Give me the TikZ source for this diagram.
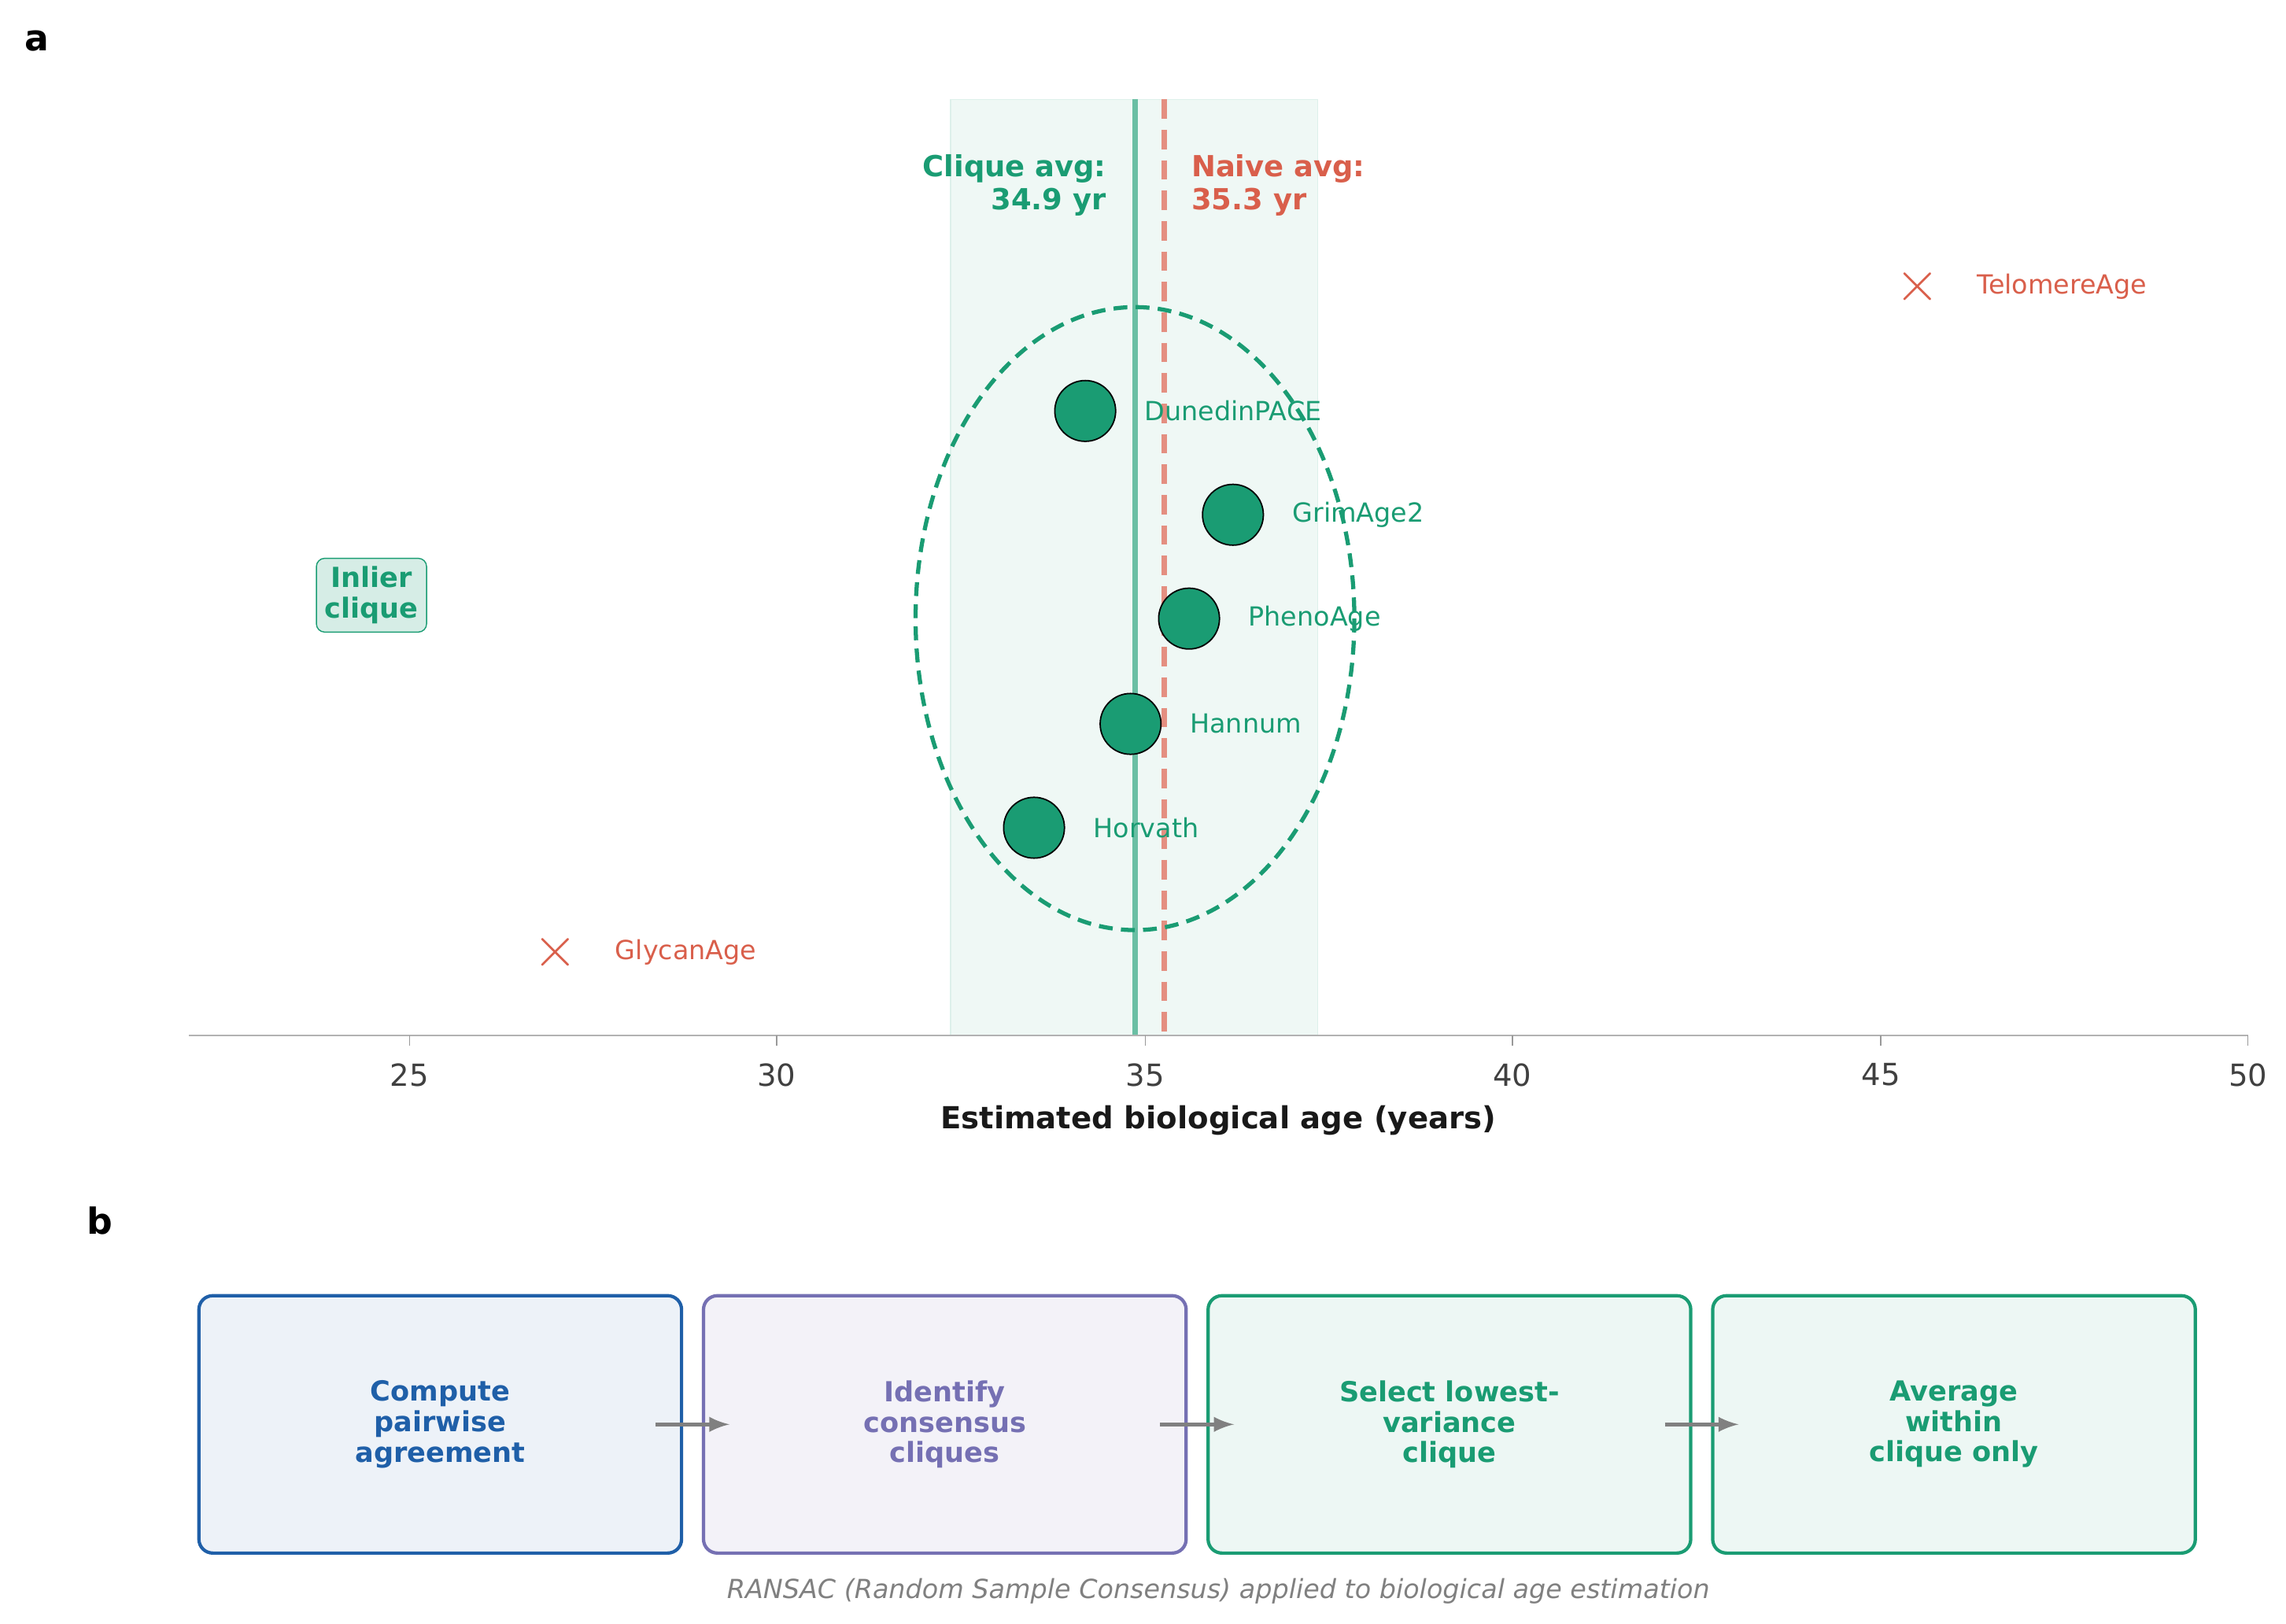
\documentclass[tikz,border=0pt]{standalone}
\usepackage{fontspec}
\setmainfont{DejaVu Sans}
\begin{document}
\definecolor{gr}{HTML}{1A9C73}
\definecolor{rd}{HTML}{D95F4B}
\definecolor{bl}{HTML}{1F5FA8}
\definecolor{pu}{HTML}{7570B3}
\begin{tikzpicture}[x=0.018586cm,y=-0.018586cm,
 pt/.style={circle,draw=black,fill=gr,minimum size=22,inner sep=0,line width=0.5pt},
 lab/.style={anchor=west,font=\fontsize{9.5}{11}\selectfont,text=gr},
 tick/.style={font=\fontsize{11}{13}\selectfont,text=black!75},
 box/.style={draw,rounded corners=5pt,line width=1.2pt,minimum width=330*0.018586cm,minimum height=176*0.018586cm,align=center,font=\bfseries\fontsize{10}{11}\selectfont},
 arr/.style={->,>=latex,draw=gray,line width=1.5pt}]
\useasboundingbox (0,0) rectangle (1563,1110);
\node[font=\bfseries\fontsize{13}{15}\selectfont] (pa) at (25,28) {a};
\node[font=\bfseries\fontsize{13}{15}\selectfont] (pb) at (68,835) {b};
% band
\fill[gr!7] (650,68) rectangle (901,708);
\draw[gr!15] (650,68) rectangle (901,708);
\draw[gr!65,line width=2pt] (776,68) -- (776,708);
\draw[rd!70,line width=2pt,dash pattern=on 7pt off 4pt] (796,68) -- (796,708);
% axis
\draw[black!30,line width=0.8pt] (129,708) -- (1537,708);
\foreach \v/\x in {25/280,30/531,35/783,40/1034,45/1286,50/1537}{
 \draw[black!40] (\x,708) -- (\x,715);
 \node[tick] (t\v) at (\x,735) {\v};}
\node[font=\bfseries\fontsize{11}{13}\selectfont,text=black!90] (xl) at (833,766) {Estimated biological age (years)};
\node[anchor=north east,align=right,text=gr,font=\bfseries\fontsize{10.5}{12}\selectfont] (ca) at (763,99) {Clique avg:\\34.9 yr};
\node[anchor=north west,align=left,text=rd,font=\bfseries\fontsize{10.5}{12}\selectfont] (na) at (808,99) {Naive avg:\\35.3 yr};
\draw[gr,line width=1.5pt,dash pattern=on 5pt off 3pt] (776,423) ellipse [x radius=150,y radius=213];
\foreach \n/\x/\y in {DunedinPACE/742/281,GrimAge2/843/352,PhenoAge/813/423,Hannum/773/495,Horvath/707/566}{
 \node[pt] (p\n) at (\x,\y) {};
 \node[lab] (l\n) at (\x+34,\y) {\n};}
\foreach \n/\x/\y in {GlycanAge/380/651,TelomereAge/1311/196}{
 \node[text=rd,font=\bfseries\fontsize{22}{22}\selectfont] (x\n) at (\x,\y) {$\times$};
 \node[lab,text=rd] (l\n) at (\x+34,\y) {\n};}
\node[draw=gr,fill=gr!18,rounded corners=3pt,align=center,text=gr,font=\bfseries\fontsize{10}{11}\selectfont,inner sep=3pt] (ic) at (254,407) {Inlier\\clique};
% panel b
\node[box,draw=bl,fill=bl!8,text=bl] (b1) at (301,974) {Compute\\pairwise\\agreement};
\node[box,draw=pu,fill=pu!9,text=pu] (b2) at (646,974) {Identify\\consensus\\cliques};
\node[box,draw=gr,fill=gr!8,text=gr] (b3) at (991,974) {Select lowest-\\variance\\clique};
\node[box,draw=gr,fill=gr!8,text=gr] (b4) at (1336,974) {Average\\within\\clique only};
\draw[arr] ([xshift=-10]b1.east) -- ([xshift=10]b2.west);
\draw[arr] ([xshift=-10]b2.east) -- ([xshift=10]b3.west);
\draw[arr] ([xshift=-10]b3.east) -- ([xshift=10]b4.west);
\node[font=\itshape\fontsize{9.5}{11}\selectfont,text=gray] (cap) at (833,1088) {RANSAC (Random Sample Consensus) applied to biological age estimation};
\end{tikzpicture}
\end{document}
